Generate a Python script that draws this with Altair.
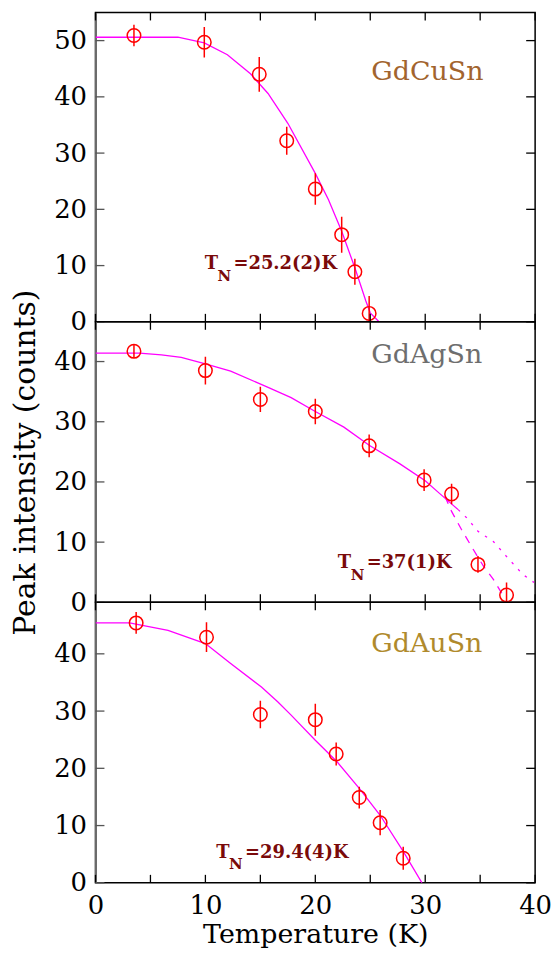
import altair as alt
import pandas as pd

# ---------------- GdCuSn ----------------
cu_temp = [3.5, 9.9, 14.9, 17.4, 20.0, 22.4, 23.6, 24.9]
cu_int = [50.9, 49.7, 44.0, 32.2, 23.6, 15.5, 8.9, 1.5]
cu_err = [1.9, 2.7, 3.1, 2.5, 2.8, 3.2, 2.3, 3.1]
cu_fit_temp = [0.0, 7.5, 9.9, 12.0, 14.1, 15.7, 17.5, 20.0, 21.2, 22.4, 23.6, 24.6, 25.0, 25.8]
cu_fit_int = [50.6, 50.6, 49.6, 47.5, 44.1, 40.6, 35.3, 26.4, 21.7, 16.1, 9.6, 3.7, 1.6, 0.0]

# ---------------- GdAgSn ----------------
ag_temp = [3.5, 10.0, 15.0, 20.0, 24.9, 29.9, 32.4, 34.8, 37.4]
ag_int = [41.7, 38.5, 33.7, 31.7, 26.0, 20.3, 18.0, 6.3, 1.2]
ag_err = [1.1, 2.3, 2.1, 2.1, 1.9, 1.8, 1.7, 1.4, 2.1]
ag_fit_temp = [0.0, 4.0, 6.0, 7.8, 10.0, 12.3, 15.6, 17.8, 20.0, 22.6, 24.9, 27.7, 30.0, 31.3, 33.0]
ag_fit_int = [41.4, 41.4, 41.1, 40.7, 39.6, 38.4, 35.8, 34.0, 31.7, 29.1, 26.1, 23.0, 20.2, 18.1, 15.4]
ag_dash_temp = [31.8, 32.4, 33.3, 34.2, 35.3, 36.2, 37.2]
ag_dash_int = [17.6, 15.1, 12.1, 9.3, 6.0, 3.8, 0.8]
ag_dot_temp = [33.0, 33.8, 34.8, 36.2, 37.5, 38.9, 39.9]
ag_dot_int = [15.4, 14.0, 11.8, 10.1, 7.4, 4.6, 3.3]

# ---------------- GdAuSn ----------------
au_temp = [3.7, 10.1, 15.0, 20.0, 21.9, 24.0, 25.9, 28.0]
au_int = [45.4, 42.9, 29.4, 28.5, 22.5, 14.9, 10.5, 4.3]
au_err = [1.9, 2.6, 2.4, 2.8, 2.0, 1.9, 2.2, 2.0]
au_fit_temp = [0.0, 3.1, 6.6, 10.0, 12.3, 15.1, 16.6, 17.8, 20.0, 22.0, 24.0, 25.9, 28.0, 29.7]
au_fit_int = [45.4, 45.4, 44.1, 41.8, 38.3, 34.2, 31.6, 29.3, 24.9, 21.1, 16.5, 11.8, 5.5, 0.0]

x_ticks = [0, 5, 10, 15, 20, 25, 30, 35, 40]
x_labels = [0, 10, 20, 30, 40]

FONT = "DejaVu Serif"
RED = "#ff0000"
MAGENTA = "#ff00ff"
TN_COLOR = "#7a0a0a"
W = 442
TICK = 8


def panel(name, name_color, temp, inten, err, fits, ymax, height, y_ticks,
          name_at, tn_value, tn_at, bottom=False, y_title=False):
    xs = alt.Scale(domain=[0, 40], nice=False, zero=False)
    ys = alt.Scale(domain=[0, ymax], nice=False, zero=False)
    if bottom:
        x_axis = alt.Axis(values=x_labels, ticks=False, grid=False, domain=False,
                          labelFlush=False, labelPadding=10, labelFontSize=26,
                          labelFont=FONT, labelColor="black",
                          title="Temperature (K)", titleFont=FONT,
                          titleFontSize=27, titleFontWeight="normal",
                          titleColor="black", titlePadding=3)
    else:
        x_axis = None
    y_kw = dict(values=y_ticks, ticks=False, grid=False, labelPadding=9,
                labelFontSize=26, labelFont=FONT, labelColor="black",
                domainColor="#6a6a6a", domainWidth=2)
    if y_title:
        y_kw.update(title="Peak intensity (counts)", titleFont=FONT,
                    titleFontSize=30, titleFontWeight="normal",
                    titleColor="black", titlePadding=13)
    else:
        y_kw.update(title=None)
    y_axis = alt.Axis(**y_kw)

    def X(field="T"):
        return alt.X(f"{field}:Q", scale=xs, axis=x_axis)

    def Y(field="I"):
        return alt.Y(f"{field}:Q", scale=ys, axis=y_axis)

    layers = []

    # fitted order-parameter curves
    for ft, fi, dash in fits:
        kw = dict(color=MAGENTA, strokeWidth=1.3, clip=True)
        if dash:
            kw["strokeDash"] = dash
        layers.append(
            alt.Chart(pd.DataFrame({"T": ft, "I": fi}))
            .mark_line(**kw)
            .encode(x=X(), y=Y(), order="T:Q")
        )

    pts = pd.DataFrame({"T": temp, "I": inten, "E": err})
    base = alt.Chart(pts).transform_calculate(
        lo="datum.I - datum.E", hi="datum.I + datum.E"
    )
    # error bars
    layers.append(
        base.mark_rule(color=RED, strokeWidth=1.5, clip=True)
        .encode(x=X(), y=Y("lo"), y2="hi:Q")
    )
    # open circles
    layers.append(
        base.mark_point(shape="circle", filled=False, size=185, color=RED,
                        strokeWidth=1.5, opacity=1)
        .encode(x=X(), y=Y())
    )

    # inward ticks on all four sides
    xt = pd.DataFrame({"T": x_ticks})
    yt = pd.DataFrame({"I": y_ticks})
    layers.append(alt.Chart(xt).mark_rule(color="black", strokeWidth=1.3)
                  .encode(x=X(), y=alt.value(0), y2=alt.value(TICK)))
    layers.append(alt.Chart(xt).mark_rule(color="black", strokeWidth=1.3)
                  .encode(x=X(), y=alt.value(height), y2=alt.value(height - TICK)))
    layers.append(alt.Chart(yt).mark_rule(color="#555555", strokeWidth=1.3)
                  .encode(y=Y(), x=alt.value(0), x2=alt.value(TICK + 1)))
    layers.append(alt.Chart(yt).mark_rule(color="black", strokeWidth=1.3)
                  .encode(y=Y(), x=alt.value(W), x2=alt.value(W - TICK - 1)))

    # compound name
    layers.append(
        alt.Chart(pd.DataFrame({"T": [name_at[0]], "I": [name_at[1]], "s": [name]}))
        .mark_text(align="left", baseline="alphabetic", fontSize=27,
                   color=name_color, font=FONT)
        .encode(x=X(), y=Y(), text="s:N")
    )

    # Neel temperature: T, subscript N, and value
    tn = pd.DataFrame({"T": [tn_at[0]], "I": [tn_at[1]]})
    tn_style = dict(align="left", baseline="alphabetic", color=TN_COLOR,
                    font=FONT, fontWeight="bold")
    layers.append(alt.Chart(tn).mark_text(text="T", fontSize=18, **tn_style)
                  .encode(x=X(), y=Y()))
    layers.append(alt.Chart(tn).mark_text(text="N", fontSize=15, dx=13, dy=12,
                                          **tn_style)
                  .encode(x=X(), y=Y()))
    layers.append(alt.Chart(tn).mark_text(text=f"={tn_value}K", fontSize=18,
                                          dx=29, **tn_style)
                  .encode(x=X(), y=Y()))

    return alt.layer(*layers).properties(width=W, height=height)


top = panel("GdCuSn", "#a2642e", cu_temp, cu_int, cu_err,
            [(cu_fit_temp, cu_fit_int, None)],
            55.0, 311, [0, 10, 20, 30, 40, 50],
            (25.1, 43.0), "25.2(2)", (9.93, 9.33))

mid = panel("GdAgSn", "#6e6e6e", ag_temp, ag_int, ag_err,
            [(ag_fit_temp, ag_fit_int, None),
             (ag_dash_temp, ag_dash_int, [8, 7]),
             (ag_dot_temp, ag_dot_int, [2.5, 7])],
            46.6, 282, [0, 10, 20, 30, 40],
            (25.1, 39.7), "37(1)", (22.05, 5.74), y_title=True)

bot = panel("GdAuSn", "#b08a2c", au_temp, au_int, au_err,
            [(au_fit_temp, au_fit_int, None)],
            49.0, 282, [0, 10, 20, 30, 40],
            (25.1, 40.3), "29.4(4)", (10.98, 4.42), bottom=True)

chart = (
    alt.vconcat(top, mid, bot, spacing=0)
    .properties(bounds="flush",
                padding={"left": 10, "top": 8, "right": 5, "bottom": 0})
    .configure(font=FONT)
    .configure_view(stroke="black", strokeWidth=1.5)
)

chart.save("out.html", embed_options={"renderer": "svg", "actions": False})
